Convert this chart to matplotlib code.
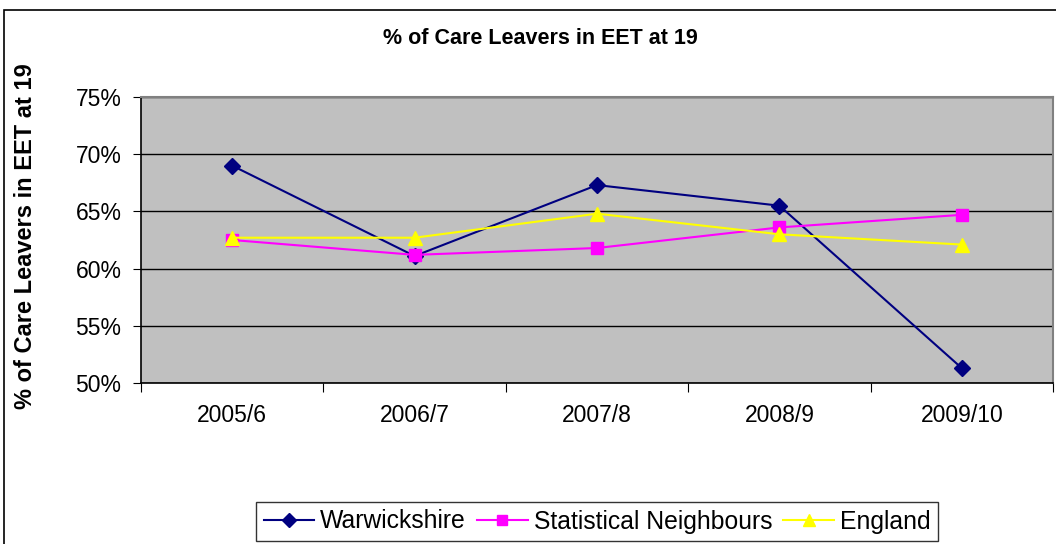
import matplotlib
matplotlib.use("Agg")
import matplotlib.pyplot as plt
from matplotlib.patches import Rectangle

categories = ["2005/6", "2006/7", "2007/8", "2008/9", "2009/10"]
warwickshire = [69.0, 61.1, 67.3, 65.5, 51.3]
stat_neigh = [62.5, 61.2, 61.8, 63.6, 64.7]
england = [62.7, 62.7, 64.8, 63.0, 62.1]
yticks = [50, 55, 60, 65, 70, 75]

plt.rcParams['font.family'] = ['Liberation Sans', 'DejaVu Sans']

W, H = 1056, 544
fig = plt.figure(figsize=(W/100, H/100), dpi=100)
fig.patches.append(Rectangle((4/W, -0.1), 1.2, 1 - 10/H + 0.1, transform=fig.transFigure,
                             fill=False, edgecolor='black', linewidth=1.2))

left, right, top, bottom = 141, 1053, 97, 383
ax = fig.add_axes([left/W, 1 - bottom/H, (right-left)/W, (bottom-top)/H])
ax.set_facecolor('#C0C0C0')

x = list(range(len(categories)))
ax.plot(x, warwickshire, color='#000080', marker='D', markersize=8.5, linewidth=1.5, label='Warwickshire')
ax.plot(x, stat_neigh, color='#FF00FF', marker='s', markersize=8.5, linewidth=1.5, label='Statistical Neighbours')
ax.plot(x, england, color='#FFFF00', marker='^', markersize=10.5, linewidth=1.5, label='England')

ax.set_xlim(-0.5, len(categories) - 0.5)
ax.set_ylim(50, 75)
ax.set_yticks(yticks)
ax.set_yticklabels([f"{v}%" for v in yticks], fontsize=16.5)
ax.set_xticks([i - 0.5 for i in range(len(categories) + 1)], minor=False)
ax.set_xticklabels([])
ax.set_xticks(x, minor=True)
ax.set_xticklabels(categories, minor=True, fontsize=16.5)
ax.tick_params(axis='x', which='minor', length=0, pad=15)
ax.tick_params(axis='x', which='major', length=6.5, direction='out', color='black')
ax.tick_params(axis='y', length=6, direction='out', pad=8)
ax.yaxis.grid(True, color='black', linewidth=1)
ax.set_axisbelow(True)
for s in ['top', 'right']:
    ax.spines[s].set_color('#808080')
    ax.spines[s].set_linewidth(1.5)
for s in ['left', 'bottom']:
    ax.spines[s].set_color('black')
    ax.spines[s].set_linewidth(1.2)

fig.text(540/W, 1 - 39/H, "% of Care Leavers in EET at 19", ha='center', va='center',
         fontsize=15.5, fontweight='bold')
fig.text(26/W, 1 - 236/H, "% of Care Leavers in EET at 19", ha='center', va='center',
         rotation=90, fontsize=17, fontweight='bold')

leg = ax.legend(loc='center', bbox_to_anchor=(597/W, 1 - 521.5/H), bbox_transform=fig.transFigure,
                ncol=3, fontsize=17.8, frameon=True, fancybox=False, edgecolor='black',
                handlelength=2.05, handletextpad=0.24, columnspacing=0.45, borderpad=0.3,
                borderaxespad=0, markerscale=0.8)
leg.get_frame().set_linewidth(1.0)

fig.savefig("out.png", dpi=100)
